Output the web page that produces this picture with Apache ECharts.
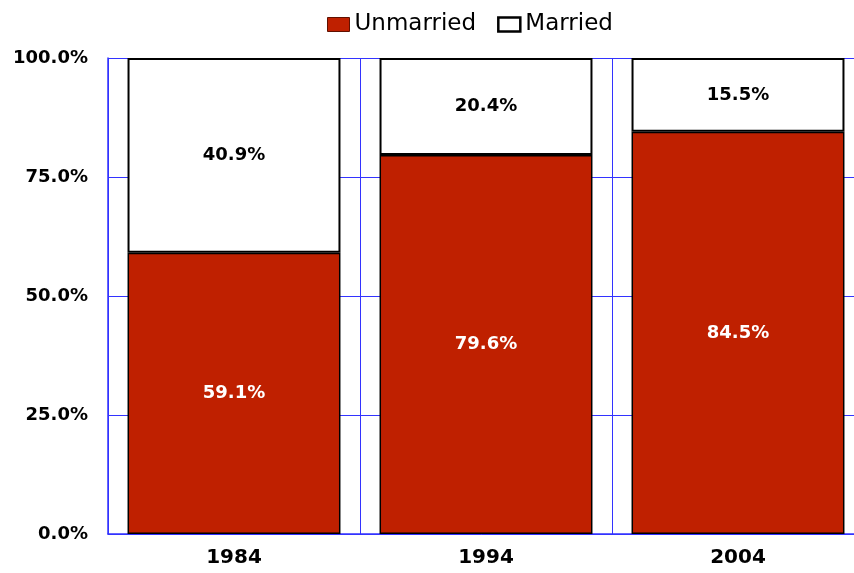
<!DOCTYPE html>
<html>
<head>
<meta charset="utf-8">
<script src="https://cdn.jsdelivr.net/npm/echarts@6/dist/echarts.min.js"></script>
<style>
  html, body { margin: 0; padding: 0; background: #fff; }
  #j-chart { width: 854px; height: 573px; }
</style>
</head>
<body>
<div id="j-chart"></div>
<script>
var years = ['1984', '1994', '2004'];
var unmarried = [59.1, 79.6, 84.5];
var married = [40.9, 20.4, 15.5];
var yTicks = [0, 25, 50, 75, 100];

var blue = '#3333ff';
var red = '#bf2000';

var pct = function (p) { return p.value.toFixed(1) + '%'; };

var option = {
    backgroundColor: '#fff',
    animation: false,
    legend: {
        top: 8,
        left: 322,
        icon: 'rect',
        itemWidth: 22,
        itemHeight: 14,
        itemGap: 21,
        textStyle: {
            fontFamily: 'DejaVu Sans',
            fontSize: 23,
            color: '#000'
        },
        data: [
            { name: 'Unmarried', itemStyle: { borderColor: '#601000', borderWidth: 1 } },
            { name: 'Married', itemStyle: { borderColor: '#000', borderWidth: 2.5 } }
        ]
    },
    grid: {
        left: 108,
        width: 756,
        top: 58,
        bottom: 39,
        containLabel: false,
        outerBoundsMode: 'none'
    },
    xAxis: {
        type: 'category',
        data: years,
        axisLine: { lineStyle: { color: blue, width: 1.5 } },
        axisTick: { show: false },
        splitLine: { show: true, lineStyle: { color: blue, width: 1 } },
        axisLabel: {
            margin: 14,
            color: '#000',
            fontFamily: 'DejaVu Sans',
            fontWeight: 'bold',
            fontSize: 20
        }
    },
    yAxis: {
        type: 'value',
        min: 0,
        max: 100,
        interval: 25,
        axisLine: { show: true, lineStyle: { color: blue, width: 1.5 } },
        axisTick: { show: false },
        splitLine: { lineStyle: { color: blue, width: 1 } },
        axisLabel: {
            margin: 20,
            color: '#000',
            fontFamily: 'DejaVu Sans',
            fontWeight: 'bold',
            fontSize: 18,
            formatter: function (v) {
                return yTicks.indexOf(v) >= 0 ? v.toFixed(1) + '%' : '';
            }
        }
    },
    series: [
        {
            name: 'Unmarried',
            type: 'bar',
            stack: 'total',
            barWidth: '84.5%',
            data: unmarried,
            itemStyle: { color: red, borderColor: '#000', borderWidth: 1.5 },
            label: {
                show: true,
                position: 'inside',
                color: '#fff',
                fontFamily: 'DejaVu Sans',
                fontWeight: 'bold',
                fontSize: 18,
                formatter: pct
            }
        },
        {
            name: 'Married',
            type: 'bar',
            stack: 'total',
            data: married,
            itemStyle: { color: '#fff', borderColor: '#000', borderWidth: 2 },
            label: {
                show: true,
                position: 'inside',
                color: '#000',
                fontFamily: 'DejaVu Sans',
                fontWeight: 'bold',
                fontSize: 18,
                formatter: pct
            }
        }
    ]
};

var myChart = echarts.init(document.getElementById('j-chart'));
myChart.setOption(option);
</script>
</body>
</html>
